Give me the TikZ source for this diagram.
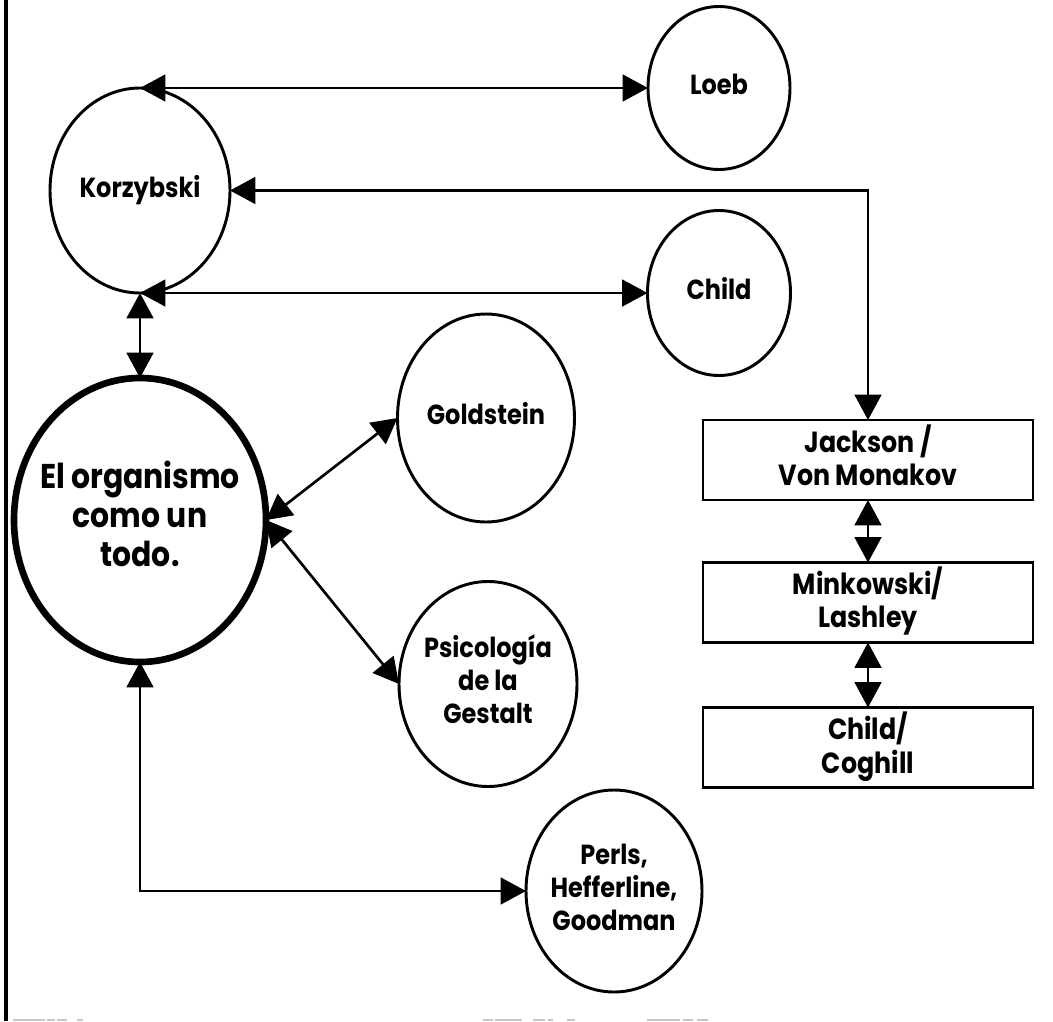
\documentclass[tikz,border=0pt]{standalone}
\usepackage{graphicx}
\usepackage{fontspec}
\setmainfont{Poppins}
\usetikzlibrary{shapes.geometric,arrows.meta}
% centred, slightly tall label lines (extra top strut balances the bottom one)
\newcommand\tallstack[1]{\scalebox{1}[1.15]{\begin{tabular}{@{}c@{}}\rule{0pt}{0.9\baselineskip}#1\end{tabular}}}
\begin{document}
\begin{tikzpicture}[x=0.75pt,y=-0.75pt,
  every node/.style={font=\bfseries\fontsize{18}{21.5}\selectfont, text=black},
  oval/.style={ellipse, draw, line width=2.2pt, inner sep=-40pt, outer sep=0pt},
  stage/.style={rectangle, draw, line width=2.2pt, inner sep=0pt, outer sep=0pt,
    minimum width=247.5pt, minimum height=60pt, font=\bfseries\fontsize{19}{21.5}\selectfont},
  tip/.tip={Triangle[length=19pt,width=20pt]},
  dbl/.style={tip-tip, line width=2pt},
  scanmark/.style={draw=gray!45, line width=1.5pt}]
\useasboundingbox (0,0) rectangle (1053,1021);
\fill[white] (0,0) rectangle (1053,1021);

% frame edge on the left
\draw[line width=2.3pt] (6,0) -- (6,1021);
% faint marks along the bottom edge
\foreach \a/\b in {13/45,47/55,57/67,77/83,483/493,495/522,533/545,548/553,567/575,647/680,683/693,697/708}
  \draw[scanmark] (\a,1019.5) -- (\b,1019.5);

% circles
\node[oval, minimum width=135pt, minimum height=153.75pt] (kor) at (140,190.5) {\tallstack{Korzybski}};
\node[oval, minimum width=106.5pt, minimum height=122.25pt] (loeb) at (719,88) {\tallstack{Loeb}};
\node[oval, minimum width=107.25pt, minimum height=123.75pt] (child) at (719,293) {\tallstack{Child}};
\node[oval, line width=5pt, minimum width=189pt, minimum height=213pt,
      font=\bfseries\fontsize{22.4}{25.4}\selectfont] (org) at (140,520) {\tallstack{El organismo\\como un\\todo.}};
\node[oval, minimum width=132.75pt, minimum height=156pt] (gold) at (486,418) {\tallstack{Goldstein}};
\node[oval, minimum width=133.5pt, minimum height=153.75pt] (gest) at (488,684) {\tallstack{Psicología\\de la\\Gestalt}};
\node[oval, minimum width=132pt, minimum height=151.5pt] (perls) at (614,891) {\tallstack{Perls,\\Hefferline,\\Goodman}};

% boxes on the right
\node[stage] (jack) at (868,460) {\tallstack{Jackson /\\Von Monakov}};
\node[stage] (mink) at (868,602.5) {\tallstack{Minkowski/\\Lashley}};
\node[stage] (cogh) at (868,747.5) {\tallstack{Child/\\Coghill}};

% connectors
\draw[dbl] (kor.north) -- (loeb.west);
\draw[dbl] (kor.east) -| (jack.north);
\draw[dbl] (kor.south) -- (child.west);
\draw[dbl] (kor.south) -- (org.north);
\draw[dbl] (org.east) -- (gold.west);
\draw[dbl] (org.east) -- (gest.west);
\draw[dbl] (org.south) |- (perls.west);
\draw[dbl] (jack.south) -- (mink.north);
\draw[dbl] (mink.south) -- (cogh.north);
\end{tikzpicture}
\end{document}
